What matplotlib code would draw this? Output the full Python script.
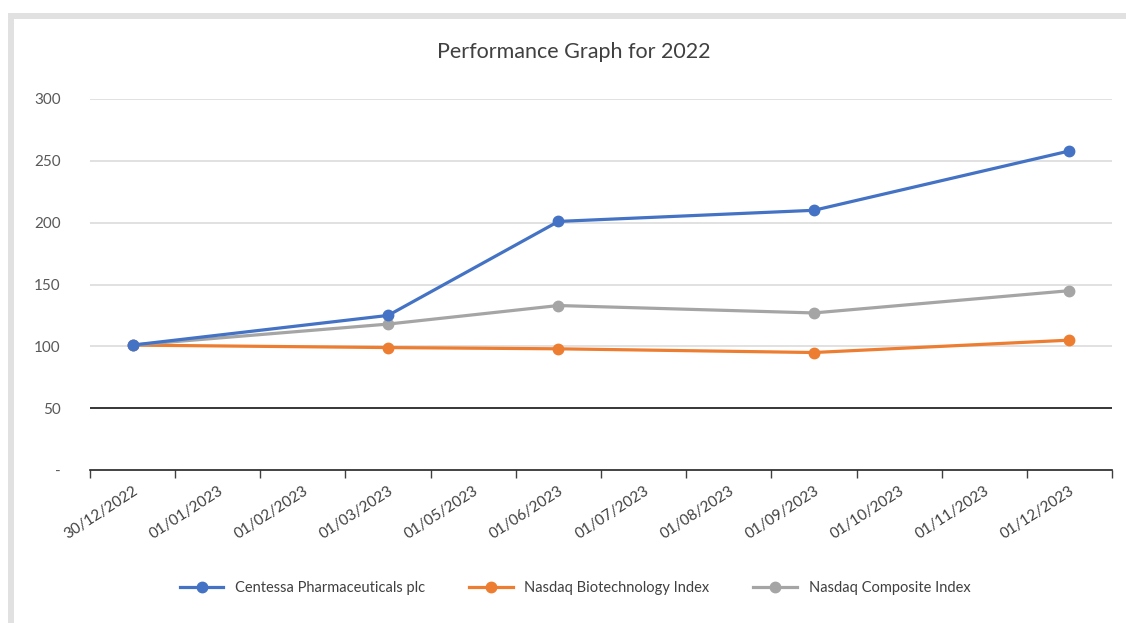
import matplotlib
matplotlib.use("Agg")
import matplotlib.pyplot as plt
import numpy as np
from matplotlib.patches import Rectangle

# Data
categories = ["30/12/2022", "01/01/2023", "01/02/2023", "01/03/2023", "01/05/2023",
              "01/06/2023", "01/07/2023", "01/08/2023", "01/09/2023", "01/10/2023",
              "01/11/2023", "01/12/2023"]
point_dates = ["30/12/2022", "01/03/2023", "01/06/2023", "01/09/2023", "01/12/2023"]
centessa = [101, 125, 201, 210, 258]
biotech = [101, 99, 98, 95, 105]
composite = [101, 118, 133, 127, 145]
series_names = ["Centessa Pharmaceuticals plc", "Nasdaq Biotechnology Index", "Nasdaq Composite Index"]
series_colors = ["#4472C4", "#ED7D31", "#A5A5A5"]
y_ticks = [0, 50, 100, 150, 200, 250, 300]
y_tick_labels = ["-", "50", "100", "150", "200", "250", "300"]
title = "Performance Graph for 2022"

plt.rcParams['font.family'] = ['Lato', 'DejaVu Sans']
W, H = 1126, 623
fig = plt.figure(figsize=(W / 100, H / 100), dpi=100)
fig.patch.set_facecolor("white")

# frame bands
band = "#e1e1e1"
fig.patches.append(Rectangle((8 / W, 1 - 19 / H), 1 - 8 / W, 6 / H, transform=fig.transFigure,
                             facecolor=band, edgecolor="none", zorder=0))
fig.patches.append(Rectangle((8 / W, 0), 6 / W, 1 - 13 / H, transform=fig.transFigure,
                             facecolor=band, edgecolor="none", zorder=0))

ax = fig.add_axes([90 / W, (H - 470) / H, 1022 / W, 371 / H])
ax.set_facecolor("none")

xpos = [categories.index(d) for d in point_dates]
for vals, name, col, z in zip([centessa, biotech, composite], series_names, series_colors, [5, 3, 4]):
    ax.plot(xpos, vals, color=col, lw=2.3, marker="o", ms=7.5, label=name, zorder=z)

ax.set_xlim(-0.5, len(categories) - 0.5)
ax.set_ylim(0, 300)

# gridlines
for yv in y_ticks[1:]:
    ax.axhline(yv, color="#000000" if yv == 50 else "#d9d9d9", lw=1.1, zorder=1)

ax.set_yticks(y_ticks)
ax.set_yticklabels(y_tick_labels, fontsize=11, color="#595959")
ax.tick_params(axis="y", length=0, pad=21)

ax.set_xticks(np.arange(len(categories)))
ax.set_xticklabels(categories, rotation=33, ha="right", va="top", rotation_mode="anchor",
                   fontsize=11, color="#404040")
ax.tick_params(axis="x", which="major", length=0, pad=10)
ax.set_xticks(np.arange(len(categories) + 1) - 0.5, minor=True)
ax.tick_params(axis="x", which="minor", length=6, width=1, color="#404040", direction="out")

for s in ["left", "right", "top"]:
    ax.spines[s].set_visible(False)
ax.spines["bottom"].set_color("#222222")
ax.spines["bottom"].set_linewidth(1.2)

fig.text(574 / W, 1 - 52 / H, title, ha="center", va="center", fontsize=15.5, color="#404040")

fig.legend(loc="center", bbox_to_anchor=(575 / W, 1 - 588 / H), ncol=3, frameon=False,
           fontsize=10.5, labelcolor="#404040", handlelength=3, columnspacing=3.0)

fig.savefig("out.png", dpi=100, facecolor="white")
